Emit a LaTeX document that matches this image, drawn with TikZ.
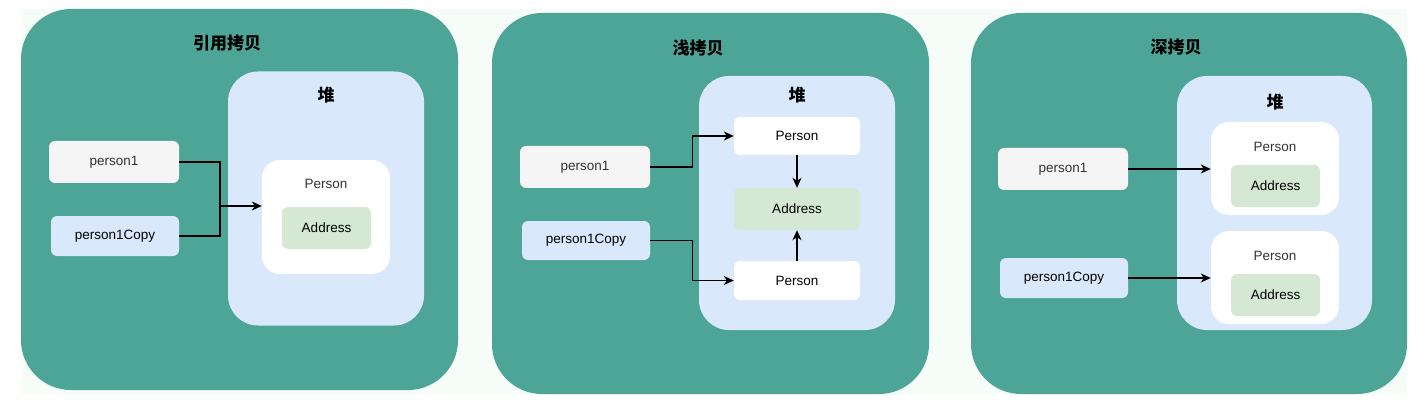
\documentclass[tikz,border=0pt]{standalone}
\usepackage{fontspec}
\setmainfont{Liberation Sans}
\newfontfamily\cjk{Noto Sans CJK SC}
\usetikzlibrary{arrows.meta, positioning}

\definecolor{panelteal}{HTML}{4DA597}
\definecolor{heapblue}{HTML}{DAE8FC}
\definecolor{vargray}{HTML}{F5F5F5}
\definecolor{addrgreen}{HTML}{D5E8D4}
\definecolor{bgmint}{HTML}{F6FDF8}
\definecolor{textgray}{HTML}{333333}

\begin{document}
\begin{tikzpicture}[x=1pt, y=-1pt,
    panel/.style={fill=panelteal, rounded corners=50pt, minimum width=437pt, minimum height=381pt},
    heap/.style={fill=heapblue, rounded corners=30pt, minimum width=196pt, minimum height=254pt},
    varbox/.style={rounded corners=6pt, minimum width=129pt, minimum height=41pt, font=\fontsize{13.5}{16}\selectfont},
    objbox/.style={fill=white, rounded corners=18pt, minimum width=128pt},
    addrbox/.style={fill=addrgreen, rounded corners=6pt, minimum width=89pt, minimum height=42pt, font=\fontsize{13.5}{16}\selectfont},
    title/.style={font=\cjk\bfseries\fontsize{17}{20}\selectfont},
    label/.style={font=\fontsize{13.5}{16}\selectfont, text=textgray},
    line/.style={line width=1.3pt},
    link/.style={line, -{Stealth[length=10pt, width=9pt, inset=3pt]}}
  ]
    \useasboundingbox (0,0) rectangle (1426,406);
    \fill[white] (0,0) rectangle (1426,406);
    \fill[bgmint] (21,9) rectangle (1407,395);

    % Panels
    \node[panel] (refpanel) at (239.5,199.5) {};
    \node[panel] (shallowpanel) at (710.5,203.5) {};
    \node[panel, minimum width=436pt] (deeppanel) at (1189,203.5) {};

    \node[title] (reftitle) at (227,43) {引用拷贝};
    \node[title] (shallowtitle) at (698,48) {浅拷贝};
    \node[title] (deeptitle) at (1176,47) {深拷贝};

    % Heaps
    \node[heap] (refheap) at (326,198.5) {};
    \node[heap] (shallowheap) at (797,203) {};
    \node[heap, minimum width=195pt] (deepheap) at (1274.5,203) {};

    \node[title] at (326,95) {堆};
    \node[title] at (797,95) {堆};
    \node[title] at (1275,102) {堆};

    % Reference copy
    \node[varbox, fill=vargray, text=textgray, minimum width=130pt, minimum height=42pt] (ref1) at (114,162) {person1};
    \node[varbox, fill=heapblue, minimum width=128pt, minimum height=40pt] (ref1copy) at (115,236) {person1Copy};
    \node[objbox, minimum height=114pt] (refperson) at (326,217) {};
    \node[label] at (326,184) {Person};
    \node[addrbox] (refaddr) at (326.5,228) {Address};

    \coordinate (refjoin) at (220,206);
    \draw[line] (ref1.east) -| (refjoin);
    \draw[line] (ref1copy.east) -| (refjoin);
    \draw[link] (refjoin) -- (refjoin -| refperson.west);

    % Shallow copy
    \node[varbox, fill=vargray, text=textgray, minimum width=130pt, minimum height=42pt] (shallow1) at (585,167) {person1};
    \node[varbox, fill=heapblue, minimum width=128pt, minimum height=39pt] (shallow1copy) at (586,240.5) {person1Copy};
    \node[varbox, fill=white, minimum width=126pt, minimum height=38pt] (shallowpersonA) at (797,136) {Person};
    \node[addrbox, minimum width=126pt] (shallowaddr) at (797,209) {Address};
    \node[varbox, fill=white, minimum width=126pt, minimum height=39pt] (shallowpersonB) at (797,280.5) {Person};

    \draw[link] (shallow1.east) -- ++(42,0) |- (shallowpersonA.west);
    \draw[link] (shallow1copy.east) -- ++(42,0) |- (shallowpersonB.west);
    \draw[link] (shallowpersonA.south) -- (shallowaddr.north);
    \draw[link] (shallowpersonB.north) -- (shallowaddr.south);

    % Deep copy
    \node[varbox, fill=vargray, text=textgray, minimum width=130pt, minimum height=42pt] (deep1) at (1063,169) {person1};
    \node[varbox, fill=heapblue, minimum width=128pt, minimum height=40pt] (deep1copy) at (1064,278) {person1Copy};
    \node[objbox, minimum height=93pt] (deeppersonA) at (1275,168.5) {};
    \node[label] at (1275,147) {Person};
    \node[addrbox] (deepaddrA) at (1275.5,186) {Address};
    \node[objbox, minimum height=93pt] (deeppersonB) at (1275,277.5) {};
    \node[label] at (1275,256) {Person};
    \node[addrbox] (deepaddrB) at (1275.5,295) {Address};

    \draw[link] (deep1.east) -- (deep1.east -| deeppersonA.west);
    \draw[link] (deep1copy.east) -- (deep1copy.east -| deeppersonB.west);
\end{tikzpicture}
\end{document}
